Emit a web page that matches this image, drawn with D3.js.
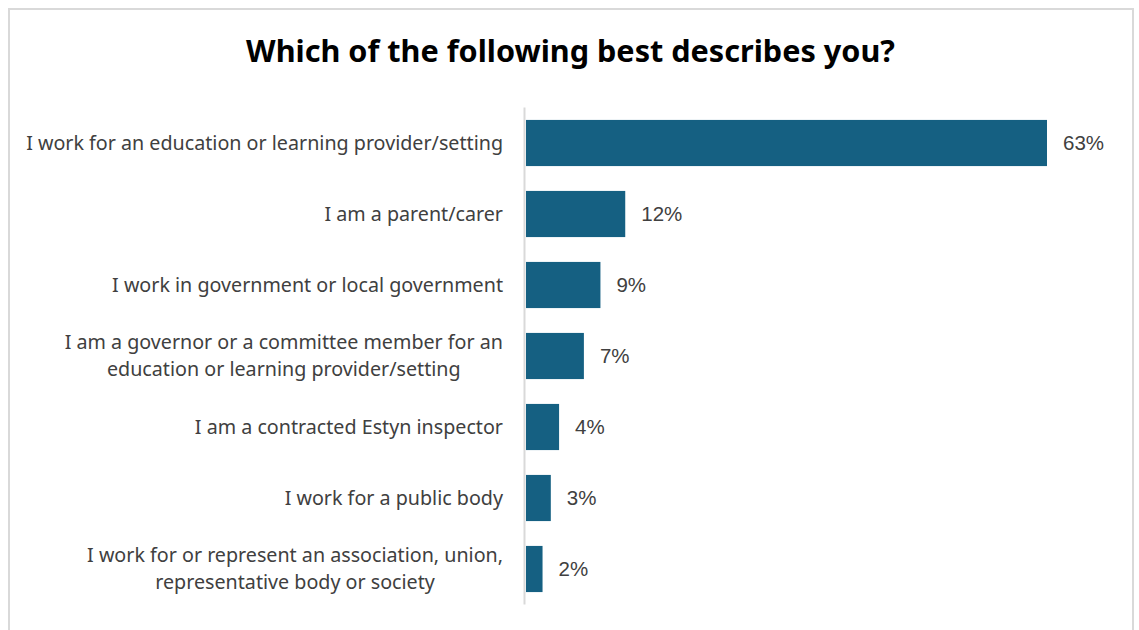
<!DOCTYPE html>
<html>
<head>
<meta charset="utf-8">
<script src="https://cdn.jsdelivr.net/npm/d3@7/dist/d3.min.js"></script>
<style>
  html, body { margin: 0; padding: 0; background: #fff; }
  svg { display: block; }
</style>
</head>
<body>
<svg id="chart" width="1139" height="630"></svg>
<script>
// Survey responses: "Which of the following best describes you?"
const chartTitle = "Which of the following best describes you?";
const categories = [
  ["I work for an education or learning provider/setting"],
  ["I am a parent/carer"],
  ["I work in government or local government"],
  ["I am a governor or a committee member for an", "education or learning provider/setting"],
  ["I am a contracted Estyn inspector"],
  ["I work for a public body"],
  ["I work for or represent an association, union,", "representative body or society"]
];
const percentages = [63, 12, 9, 7, 4, 3, 2];

const svg = d3.select("#chart");
const W = 1139, H = 630;

// outer frame
svg.append("rect")
  .attr("x", 9).attr("y", 9)
  .attr("width", 1124).attr("height", 660)
  .attr("fill", "#fff")
  .attr("stroke", "#d9d9d9")
  .attr("stroke-width", 2);

const keys = categories.map((c, i) => i);

const y = d3.scaleBand()
  .domain(keys)
  .range([107.5, 604.5])
  .paddingInner(0.35)
  .paddingOuter(0.175);

const x = d3.scaleLinear()
  .domain([0, 63])
  .range([526, 1047]);

// title, sized to its measured width
const title = svg.append("text")
  .attr("x", 570.5).attr("y", 62)
  .attr("text-anchor", "middle")
  .attr("font-family", "'Noto Sans', sans-serif")
  .attr("font-weight", 700)
  .attr("font-size", 28)
  .attr("fill", "#000")
  .text(chartTitle);
{
  const w = title.node().getComputedTextLength();
  title.attr("font-size", 28 * 649 / w);
}

// bars
svg.append("g").selectAll("rect")
  .data(percentages)
  .join("rect")
  .attr("x", x(0))
  .attr("y", (d, i) => y(i))
  .attr("width", d => x(d) - x(0))
  .attr("height", y.bandwidth())
  .attr("fill", "#156082");

// vertical category axis line
svg.append("line")
  .attr("x1", 524.5).attr("x2", 524.5)
  .attr("y1", y.range()[0]).attr("y2", y.range()[1])
  .attr("stroke", "#d9d9d9")
  .attr("stroke-width", 2);

// value labels
svg.append("g").selectAll("text")
  .data(percentages)
  .join("text")
  .attr("x", d => x(d) + 16)
  .attr("y", (d, i) => y(i) + y.bandwidth() / 2)
  .attr("dy", "0.36em")
  .attr("font-family", "'Liberation Sans', Arial, sans-serif")
  .attr("font-size", 20.5)
  .attr("fill", "#404040")
  .text(d => d + "%");

// category labels: block right-aligned to the axis, lines centred within block
const labelFont = "'Noto Sans', sans-serif";
const labelRight = 503;
const lineGap = 27;

// measure base size from the widest single line
const probe = svg.append("text")
  .attr("font-family", labelFont)
  .attr("font-size", 18)
  .text(categories[0][0]);
const labelSize = 18 * 477 / probe.node().getComputedTextLength();
probe.remove();

const labelG = svg.append("g");
categories.forEach((lines, i) => {
  const cy = y(i) + y.bandwidth() / 2;
  const g = labelG.append("g");
  const texts = lines.map((ln, j) => g.append("text")
    .attr("font-family", labelFont)
    .attr("font-size", labelSize)
    .attr("fill", "#404040")
    .attr("y", cy + (j - (lines.length - 1) / 2) * lineGap)
    .attr("dy", "0.35em")
    .text(ln));
  const widths = texts.map(t => t.node().getComputedTextLength());
  const blockW = d3.max(widths);
  const centre = labelRight - blockW / 2;
  texts.forEach(t => t.attr("x", centre).attr("text-anchor", "middle"));
});
</script>
</body>
</html>
